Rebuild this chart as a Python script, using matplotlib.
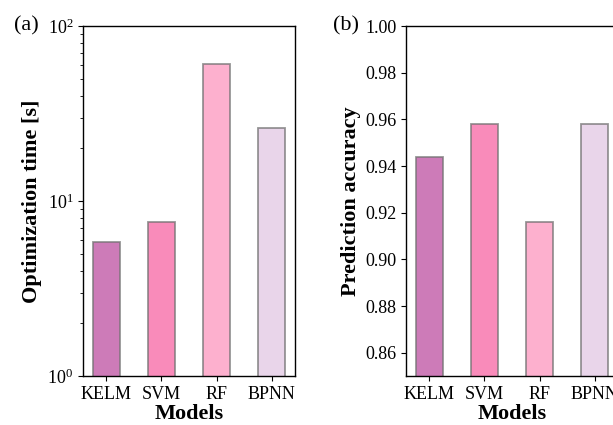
import matplotlib
matplotlib.use("Agg")
import matplotlib.pyplot as plt

models = ["KELM", "SVM", "RF", "BPNN"]
opt_time = [5.85, 7.6, 61.0, 26.0]
accuracy = [0.944, 0.958, 0.916, 0.958]
colors = ["#CD7BB8", "#F98BBA", "#FDB0CE", "#E9D5EA"]

plt.rcParams['font.family'] = ['Liberation Serif', 'DejaVu Serif']
plt.rcParams['font.size'] = 12

W, H = 613, 425
fig = plt.figure(figsize=(W / 100, H / 100), dpi=100)

ax1 = fig.add_axes([83 / W, (H - 376) / H, 212 / W, 350 / H])
ax2 = fig.add_axes([406 / W, (H - 376) / H, 212 / W, 350 / H])

x = range(len(models))
for ax, vals in ((ax1, opt_time), (ax2, accuracy)):
    ax.bar(x, vals, width=0.5, color=colors, edgecolor=(0.45, 0.45, 0.45, 0.75), linewidth=1.3)
    ax.set_xticks(list(x))
    ax.set_xticklabels(models)
    ax.set_xlabel("Models", fontsize=16, fontweight="bold", labelpad=1)
    ax.tick_params(axis="both", labelsize=13)
    for s in ax.spines.values():
        s.set_linewidth(1.0)

ax1.set_yscale("log")
ax1.set_ylim(1, 100)
ax1.set_ylabel("Optimization time [s]", fontsize=16, fontweight="bold", labelpad=4)

ax2.set_ylim(0.85, 1.00)
ax2.set_yticks([0.86, 0.88, 0.90, 0.92, 0.94, 0.96, 0.98, 1.00])
ax2.set_yticklabels(["0.86", "0.88", "0.90", "0.92", "0.94", "0.96", "0.98", "1.00"])
ax2.set_ylabel("Prediction accuracy", fontsize=16, fontweight="bold", labelpad=3)

fig.text(14 / W, 1 - 26 / H, "(a)", fontsize=16, va="center", ha="left")
fig.text(333 / W, 1 - 26 / H, "(b)", fontsize=16, va="center", ha="left")

fig.savefig("out.png", dpi=100)
